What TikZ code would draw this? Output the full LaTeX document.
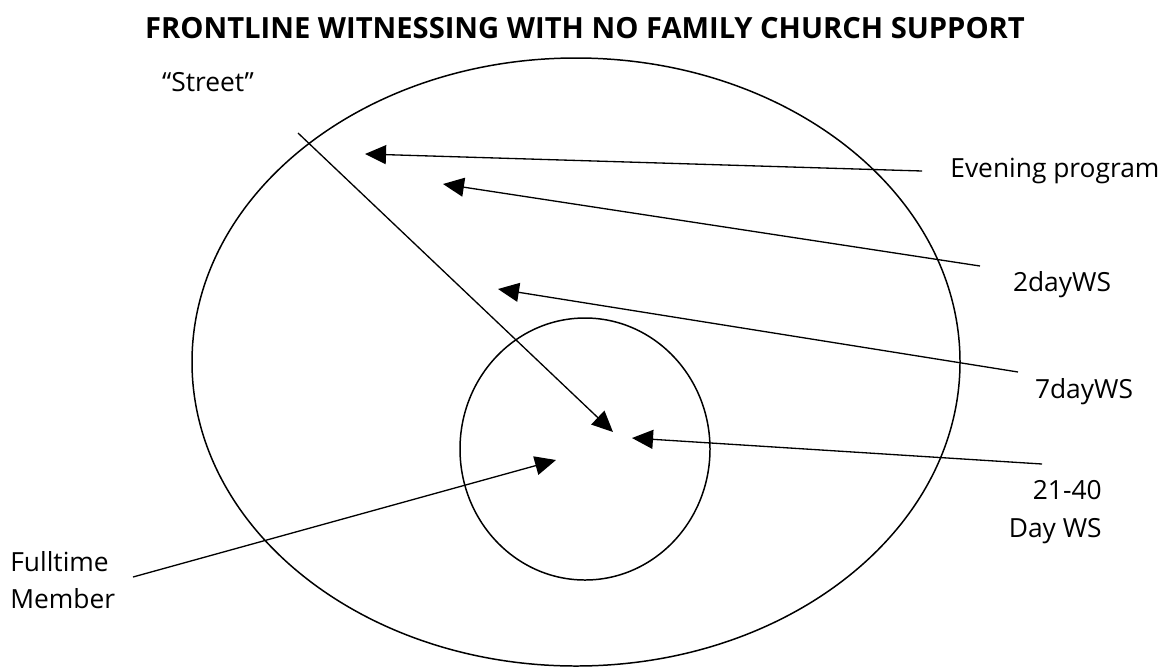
\documentclass[tikz,border=0pt]{standalone}
\usepackage{fontspec}
\setmainfont{Open Sans}
\usetikzlibrary{arrows.meta}

\begin{document}
\begin{tikzpicture}[
  x=0.02cm, y=-0.02cm,
  ring/.style={draw=black, line width=0.85pt},
  pointer/.style={-{Triangle[length=0.42cm, width=0.38cm]}, line width=0.75pt},
  lbl/.style={font=\fontsize{15}{21.5}\selectfont, inner sep=0pt},
  heading/.style={font=\fontsize{16.6}{20}\selectfont\bfseries, inner sep=0pt}
]
\useasboundingbox (0,0) rectangle (1162,667);

% title
\node[heading] (title) at (585,28) {FRONTLINE WITNESSING WITH NO FAMILY CHURCH SUPPORT};

% circles
\draw[ring] (576,362) ellipse [x radius=384, y radius=304];
\draw[ring] (585,449) ellipse [x radius=125, y radius=131];

% labels
\node[lbl] (street) at (208,82) {“Street”};
\node[lbl, anchor=west] (evening) at (950,171) {Evening program};
\node[lbl] (twoday) at (1062,285) {2dayWS};
\node[lbl] (sevenday) at (1084,392) {7dayWS};
\node[lbl, align=right, anchor=east] (longws) at (1102,512) {21-40\\Day WS};
\node[lbl, align=left, anchor=west] (fulltime) at (10,580) {Fulltime\\Member};

% line ends
\coordinate (streetA) at (298,133);
\coordinate (streetB) at (613,432);
\coordinate (eveA) at (922,171);
\coordinate (eveB) at (365,154);
\coordinate (twoA) at (980,266);
\coordinate (twoB) at (443,184);
\coordinate (sevenA) at (1018,372);
\coordinate (sevenB) at (498,289);
\coordinate (longA) at (1042,464);
\coordinate (longB) at (632,438);
\coordinate (fullA) at (133,577);
\coordinate (fullB) at (556,460);

% arrows
\draw[pointer] (streetA) -- (streetB);
\draw[pointer] (eveA) -- (eveB);
\draw[pointer] (twoA) -- (twoB);
\draw[pointer] (sevenA) -- (sevenB);
\draw[pointer] (longA) -- (longB);
\draw[pointer] (fullA) -- (fullB);
\end{tikzpicture}
\end{document}
